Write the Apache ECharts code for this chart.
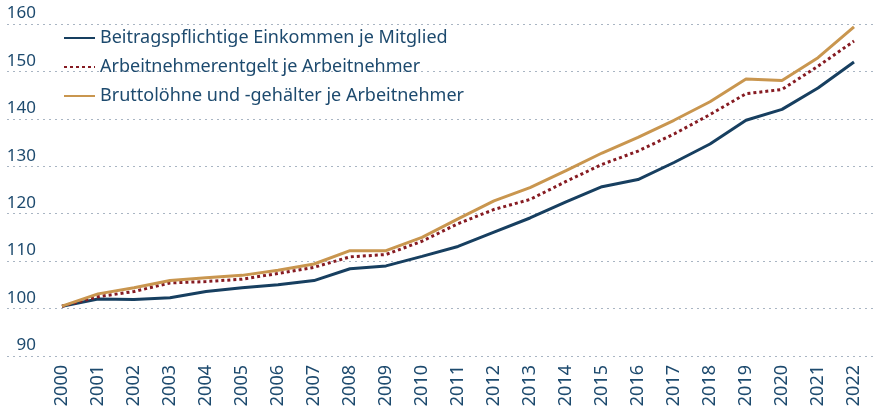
<!DOCTYPE html>
<html>
<head>
<meta charset="utf-8">
<script src="https://cdn.jsdelivr.net/npm/echarts@6/dist/echarts.min.js"></script>
<style>
  html, body { margin: 0; padding: 0; background: #fff; }
  #chart { width: 877px; height: 414px; }
</style>
</head>
<body>
<div id="chart"></div>
<script>
// Jahre
const years = ['2000', '2001', '2002', '2003', '2004', '2005', '2006', '2007', '2008', '2009', '2010', '2011',
  '2012', '2013', '2014', '2015', '2016', '2017', '2018', '2019', '2020', '2021', '2022']

// Beitragspflichtige Einkommen je Mitglied
const einkommen = [100.5, 102.0, 101.9, 102.3, 103.6, 104.4, 105.0, 105.9, 108.4, 109.0, 111.0, 113.1,
  116.1, 119.1, 122.5, 125.7, 127.2, 130.8, 134.7, 139.7, 142.0, 146.5, 152.0]

// Arbeitnehmerentgelt je Arbeitnehmer
const entgelt = [100.5, 102.5, 103.6, 105.4, 105.7, 106.2, 107.4, 108.7, 110.9, 111.4, 114.2, 117.9,
  120.9, 123.0, 126.8, 130.4, 133.2, 136.8, 140.9, 145.3, 146.2, 151.1, 156.4]

// Bruttolöhne und -gehälter je Arbeitnehmer
const brutto = [100.5, 103.1, 104.4, 105.9, 106.5, 107.0, 108.1, 109.4, 112.2, 112.2, 115.0, 118.9,
  122.7, 125.5, 129.1, 132.8, 136.1, 139.7, 143.6, 148.4, 148.1, 152.9, 159.4]

const yMin = 90
const yMax = 160
const yStep = 10

const textColor = '#1d4a6e'
const fontFamily = '"Noto Sans", sans-serif'

const chart = echarts.init(document.getElementById('chart'))

const option = {
  animation: false,
  textStyle: { fontFamily: fontFamily, color: textColor },
  legend: {
    orient: 'vertical',
    left: 58,
    top: 24,
    itemWidth: 31,
    itemHeight: 14,
    itemGap: 11,
    // nur die Linie zeigen, kein Punkt
    itemStyle: { opacity: 0 },
    textStyle: { fontSize: 18, color: textColor, fontFamily: fontFamily },
    data: [
      'Beitragspflichtige Einkommen je Mitglied',
      'Arbeitnehmerentgelt je Arbeitnehmer',
      'Bruttolöhne und -gehälter je Arbeitnehmer'
    ]
  },
  grid: [
    // Gitterlinien über die ganze Breite
    { left: 7, right: 0, top: 24, bottom: 58 },
    // Datenbereich
    { left: 62, right: 23, top: 24, bottom: 58 }
  ],
  xAxis: [
    { gridIndex: 0, type: 'value', min: 0, max: 1, show: false },
    {
      gridIndex: 1,
      type: 'category',
      boundaryGap: false,
      data: years,
      axisLine: { show: false },
      axisTick: { show: false },
      axisLabel: {
        rotate: 90,
        margin: 9,
        fontSize: 18,
        color: textColor,
        fontFamily: fontFamily
      }
    }
  ],
  yAxis: [
    {
      gridIndex: 0,
      type: 'value',
      min: yMin,
      max: yMax,
      interval: yStep,
      axisLine: { show: false },
      axisTick: { show: false },
      splitLine: {
        lineStyle: { color: '#a9b5c3', type: [2, 4], width: 1.2 }
      },
      axisLabel: {
        inside: true,
        align: 'right',
        verticalAlign: 'bottom',
        margin: 29,
        padding: [0, 0, 2, 0],
        fontSize: 17,
        color: textColor,
        fontFamily: fontFamily
      }
    },
    { gridIndex: 1, type: 'value', min: yMin, max: yMax, show: false }
  ],
  series: [
    {
      name: 'Beitragspflichtige Einkommen je Mitglied',
      type: 'line',
      xAxisIndex: 1,
      yAxisIndex: 1,
      symbol: 'none',
      data: einkommen,
      lineStyle: { color: '#173f60', width: 3 },
      itemStyle: { color: '#173f60' }
    },
    {
      name: 'Arbeitnehmerentgelt je Arbeitnehmer',
      type: 'line',
      xAxisIndex: 1,
      yAxisIndex: 1,
      symbol: 'none',
      data: entgelt,
      lineStyle: { color: '#861b22', width: 3, type: [3, 3] },
      itemStyle: { color: '#861b22' }
    },
    {
      name: 'Bruttolöhne und -gehälter je Arbeitnehmer',
      type: 'line',
      xAxisIndex: 1,
      yAxisIndex: 1,
      symbol: 'none',
      data: brutto,
      lineStyle: { color: '#c9964f', width: 3 },
      itemStyle: { color: '#c9964f' }
    }
  ]
}

chart.setOption(option)
</script>
</body>
</html>
